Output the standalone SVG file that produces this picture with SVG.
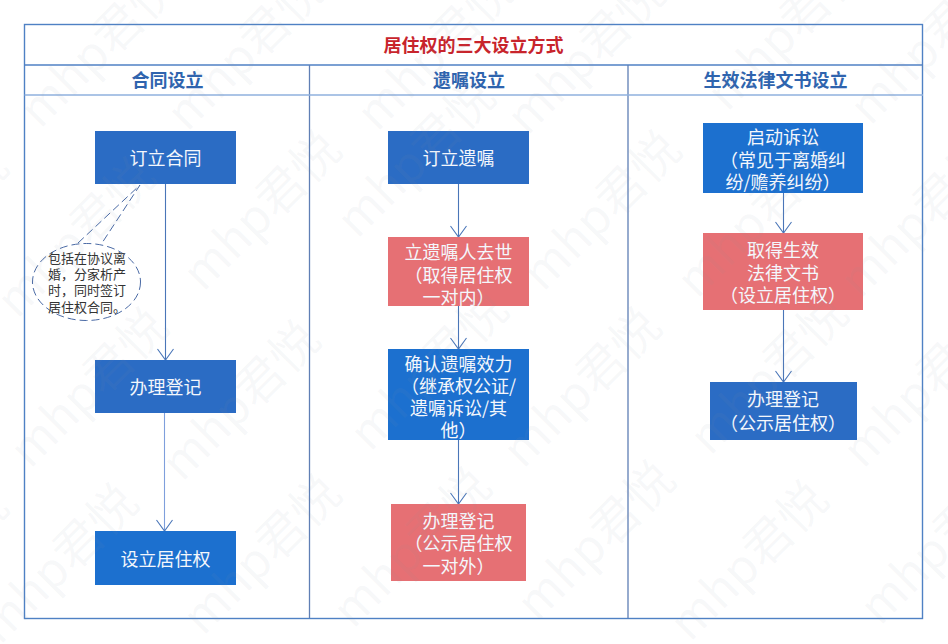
<svg xmlns="http://www.w3.org/2000/svg" width="948" height="644" viewBox="0 0 948 644">
<defs>
<style>
text{font-family:"Noto Sans CJK SC","Noto Sans",sans-serif}
.frame{fill:none;stroke:#4f81c4;stroke-width:1.4}
.hl{fill:none;stroke:#8fb0de;stroke-width:1.5}
.col{fill:none;stroke:#5f7fb5;stroke-width:1.3}
.blue{fill:#2b6cc4}.blue2{fill:#1c70cf}.red{fill:#e67074}
.t{fill:#f4f7fc;font-size:18px;text-anchor:middle}
.h{fill:#2f64ae;font-size:18px;font-weight:700;text-anchor:middle}
.c{fill:none;stroke:#4a76b8;stroke-width:1.1;marker-end:url(#a)}
.d{fill:none;stroke:#4a6aa5;stroke-width:1;stroke-dasharray:8 4}
.n{fill:#333;font-size:13px}
.w{fill:#8d99a3;fill-opacity:.065;font-size:48px}
</style>
<marker id="a" markerWidth="18" markerHeight="18" refX="16" refY="9" orient="auto" markerUnits="userSpaceOnUse" viewBox="0 0 18 18"><path d="M5 1L16 9L5 17" fill="none" stroke="#4a76b8" stroke-width="1.1"/></marker>
</defs>
<rect width="948" height="644" fill="#fff"/>
<g id="frame">
<rect class="frame" x="24.5" y="24.5" width="898" height="594"/>
<path class="frame" d="M24.5 65H923"/>
<path class="col" d="M309.5 65V618M628 65V618"/>
<path class="hl" d="M24.5 95H923"/>
</g>
<g id="title"><text x="473.5" y="52" font-size="18" font-weight="700" fill="#c8242c" text-anchor="middle">居住权的三大设立方式</text></g>
<g id="headers">
<text class="h" x="167.5" y="87">合同设立</text>
<text class="h" x="469" y="87">遗嘱设立</text>
<text class="h" x="775.5" y="87">生效法律文书设立</text>
</g>
<g id="connectors">
<path class="c" d="M165.5 184V360"/><path class="c" d="M164.5 413V531" style="stroke:#7f9fdc"/>
<path class="c" d="M458.5 184V237"/><path class="c" d="M458.5 306V349"/><path class="c" d="M458.5 440V504"/>
<path class="c" d="M783.5 193V233"/><path class="c" d="M783.5 310V382"/>
</g>
<g id="n1"><rect class="blue" x="95" y="131" width="141" height="53"/><text class="t" x="165.5" y="165">订立合同</text></g>
<g id="n2"><rect class="blue" x="95" y="360" width="141" height="53"/><text class="t" x="165.5" y="394">办理登记</text></g>
<g id="n3"><rect class="blue2" x="95" y="531" width="141" height="54"/><text class="t" x="165.5" y="566">设立居住权</text></g>
<g id="callout">
<ellipse class="d" cx="86.5" cy="282" rx="54" ry="38.5"/>
<path class="d" d="M78 243L140 185L102 243"/>
<text class="n"><tspan x="48" y="263">包括在协议离</tspan><tspan x="48" y="279">婚，分家析产</tspan><tspan x="48" y="295">时，同时签订</tspan><tspan x="48" y="312">居住权合同。</tspan></text>
</g>
<g id="n4"><rect class="blue" x="388" y="131" width="141" height="53"/><text class="t" x="458.5" y="165">订立遗嘱</text></g>
<g id="n5"><rect class="red" x="388" y="237" width="141" height="69"/><text class="t"><tspan x="458.5" y="259">立遗嘱人去世</tspan><tspan x="458.5" y="282">（取得居住权</tspan><tspan x="458.5" y="304">一对内）</tspan></text></g>
<g id="n6"><rect class="blue2" x="388" y="349" width="141" height="91"/><text class="t"><tspan x="458.5" y="371">确认遗嘱效力</tspan><tspan x="458.5" y="393">（继承权公证/</tspan><tspan x="458.5" y="415">遗嘱诉讼/其</tspan><tspan x="458.5" y="437">他）</tspan></text></g>
<g id="n7"><rect class="red" x="391" y="504" width="135" height="77"/><text class="t"><tspan x="458.5" y="528">办理登记</tspan><tspan x="458.5" y="550">（公示居住权</tspan><tspan x="458.5" y="573">一对外）</tspan></text></g>
<g id="n8"><rect class="blue2" x="703" y="123" width="160" height="70"/><text class="t"><tspan x="783" y="144">启动诉讼</tspan><tspan x="783" y="167">（常见于离婚纠</tspan><tspan x="783" y="189">纷/赡养纠纷）</tspan></text></g>
<g id="n9"><rect class="red" x="703" y="233" width="160" height="77"/><text class="t"><tspan x="783" y="257">取得生效</tspan><tspan x="783" y="280">法律文书</tspan><tspan x="783" y="302">（设立居住权）</tspan></text></g>
<g id="n10"><rect class="blue" x="710" y="382" width="147" height="58"/><text class="t"><tspan x="783" y="406">办理登记</tspan><tspan x="783" y="430">（公示居住权）</tspan></text></g>
<g id="watermark">
<text class="w" transform="translate(40 130) rotate(-45)">mhp君悦</text>
<text class="w" transform="translate(187 133) rotate(-45)">mhp君悦</text>
<text class="w" transform="translate(377 133) rotate(-45)">mhp君悦</text>
<text class="w" transform="translate(527 137) rotate(-45)">mhp君悦</text>
<text class="w" transform="translate(727 113) rotate(-45)">mhp君悦</text>
<text class="w" transform="translate(870 127) rotate(-45)">mhp君悦</text>
<text class="w" transform="translate(-130 310) rotate(-45)">mhp君悦</text>
<text class="w" transform="translate(17 320) rotate(-45)">mhp君悦</text>
<text class="w" transform="translate(203 293) rotate(-45)">mhp君悦</text>
<text class="w" transform="translate(357 240) rotate(-45)">mhp君悦</text>
<text class="w" transform="translate(543 293) rotate(-45)">mhp君悦</text>
<text class="w" transform="translate(697 300) rotate(-45)">mhp君悦</text>
<text class="w" transform="translate(860 300) rotate(-45)">mhp君悦</text>
<text class="w" transform="translate(30 470) rotate(-45)">mhp君悦</text>
<text class="w" transform="translate(182 483) rotate(-45)">mhp君悦</text>
<text class="w" transform="translate(370 453) rotate(-45)">mhp君悦</text>
<text class="w" transform="translate(523 470) rotate(-45)">mhp君悦</text>
<text class="w" transform="translate(710 457) rotate(-45)">mhp君悦</text>
<text class="w" transform="translate(863 470) rotate(-45)">mhp君悦</text>
<text class="w" transform="translate(-130 650) rotate(-45)">mhp君悦</text>
<text class="w" transform="translate(0 646) rotate(-45)">mhp君悦</text>
<text class="w" transform="translate(203 637) rotate(-45)">mhp君悦</text>
<text class="w" transform="translate(353 630) rotate(-45)">mhp君悦</text>
<text class="w" transform="translate(537 623) rotate(-45)">mhp君悦</text>
<text class="w" transform="translate(690 643) rotate(-45)">mhp君悦</text>
<text class="w" transform="translate(880 627) rotate(-45)">mhp君悦</text>
</g>
</svg>
